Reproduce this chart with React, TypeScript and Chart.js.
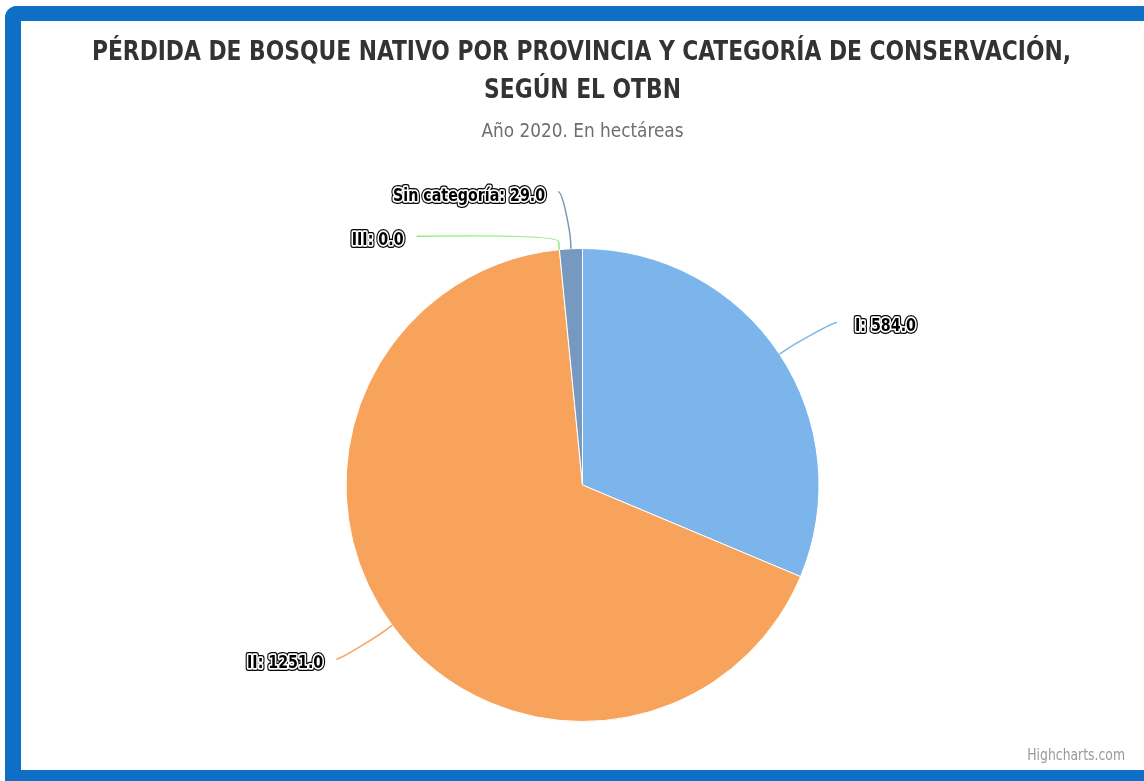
import React, { useEffect, useRef } from "react";
import { Chart, registerables } from "chart.js";

Chart.register(...registerables);

const categories = ["I", "II", "III", "Sin categoría"];
const values = [584, 1251, 0, 29];
const sliceColors = ["#7cb5ec", "#f7a35c", "#90ee7e", "#7798BF"];
const titleLines = ["PÉRDIDA DE BOSQUE NATIVO POR PROVINCIA Y CATEGORÍA DE CONSERVACIÓN,", "SEGÚN EL OTBN"];
const subtitleText = "Año 2020. En hectáreas";
const creditText = "Highcharts.com";

const NARROW = "'DejaVu Sans Condensed', 'Liberation Sans Narrow', sans-serif";

function drawText(ctx: any, text: string, x: number, y: number, align: string, sx: number, outline?: boolean) {
  ctx.save();
  ctx.translate(x, y);
  ctx.scale(sx, 1);
  ctx.textAlign = align;
  ctx.textBaseline = "middle";
  if (outline) {
    ctx.lineJoin = "round";
    ctx.strokeStyle = "#000000";
    ctx.lineWidth = 6;
    ctx.strokeText(text, 0, 0);
    ctx.strokeStyle = "#ffffff";
    ctx.lineWidth = 3.5;
    ctx.strokeText(text, 0, 0);
    ctx.fillStyle = "#000000";
  }
  ctx.fillText(text, 0, 0);
  ctx.restore();
}

const pieLabelsPlugin = {
  id: "pieLabels",
  afterDraw(chart: any) {
    const ctx = chart.ctx;
    const meta = chart.getDatasetMeta(0);
    const ds = chart.data.datasets[0];
    const items: any[] = [];
    meta.data.forEach((arc: any, i: number) => {
      const p = arc.getProps(["x", "y", "startAngle", "endAngle", "outerRadius"], true);
      const mid = (p.startAngle + p.endAngle) / 2;
      const R = p.outerRadius + 57;
      items.push({
        i,
        cx: p.x,
        cy: p.y,
        r: p.outerRadius,
        mid,
        R,
        left: Math.cos(mid) < 0,
        y: p.y + R * Math.sin(mid),
      });
    });
    [true, false].forEach((side) => {
      const group = items.filter((it) => it.left === side).sort((a, b) => a.y - b.y);
      for (let k = 1; k < group.length; k++) {
        if (group[k].y < group[k - 1].y + 44.5) group[k].y = group[k - 1].y + 44.5;
      }
    });
    ctx.save();
    items.forEach((it) => {
      const dy = Math.max(-it.R, Math.min(it.R, it.y - it.cy));
      const dx = Math.sqrt(it.R * it.R - dy * dy) + 10;
      const lx = it.left ? it.cx - dx : it.cx + dx;
      const ly = it.y;
      const ux = Math.cos(it.mid);
      const uy = Math.sin(it.mid);
      const off = 8;
      const ex = it.cx + it.r * ux;
      const ey = it.cy + it.r * uy;
      const bx = it.cx + (it.r + off) * ux;
      const by = it.cy + (it.r + off) * uy;
      const c2x = 2 * bx - ex;
      const c2y = 2 * by - ey;
      ctx.beginPath();
      ctx.moveTo(lx, ly);
      ctx.bezierCurveTo(lx + (it.left ? 5 : -5), ly, c2x, c2y, bx, by);
      ctx.lineTo(ex, ey);
      ctx.strokeStyle = ds.backgroundColor[it.i];
      ctx.lineWidth = 1.5;
      ctx.stroke();

      const text = `${chart.data.labels[it.i]}: ${ds.data[it.i].toFixed(1)}`;
      ctx.font = `bold 18px ${NARROW}`;
      const tx = it.left ? lx - 13 : lx + 18;
      drawText(ctx, text, tx, ly + 4, it.left ? "right" : "left", 0.88, true);
    });

    // title & subtitle
    const cxm = chart.width / 2;
    ctx.fillStyle = "#333333";
    ctx.font = `bold 27px ${NARROW}`;
    drawText(ctx, titleLines[0], cxm - 1, 32, "center", 0.898);
    drawText(ctx, titleLines[1], cxm, 70, "center", 0.898);
    ctx.fillStyle = "#6e6e6e";
    ctx.font = `20px ${NARROW}`;
    drawText(ctx, subtitleText, cxm, 111, "center", 0.94);

    // credit
    ctx.font = `15px ${NARROW}`;
    ctx.fillStyle = "#999999";
    drawText(ctx, creditText, chart.width - 19, chart.height - 14, "right", 0.92);
    ctx.restore();
  },
};

export default function App() {
  const ref = useRef<HTMLCanvasElement>(null);
  useEffect(() => {
    if (!ref.current) return;
    const chart = new Chart(ref.current, {
      type: "pie",
      data: {
        labels: categories,
        datasets: [
          {
            data: values,
            backgroundColor: sliceColors,
            borderColor: "#ffffff",
            borderWidth: 1,
          },
        ],
      },
      options: {
        responsive: false,
        animation: false,
        layout: { padding: { top: 227, bottom: 48, left: 0, right: 0 } },
        plugins: {
          legend: { display: false },
          tooltip: { enabled: false },
          title: { display: false },
          subtitle: { display: false },
        },
      },
      plugins: [pieLabelsPlugin],
    });
    return () => chart.destroy();
  }, []);

  return (
    <div
      style={{
        position: "absolute",
        left: 5,
        top: 6,
        width: 1139,
        height: 775,
        boxSizing: "border-box",
        background: "#ffffff",
        borderStyle: "solid",
        borderColor: "#0f6fc6",
        borderWidth: "15px 0 11px 16px",
        borderTopLeftRadius: 12,
        overflow: "hidden",
      }}
    >
      <canvas ref={ref} width={1123} height={749} style={{ display: "block", width: 1123, height: 749 }} />
    </div>
  );
}
